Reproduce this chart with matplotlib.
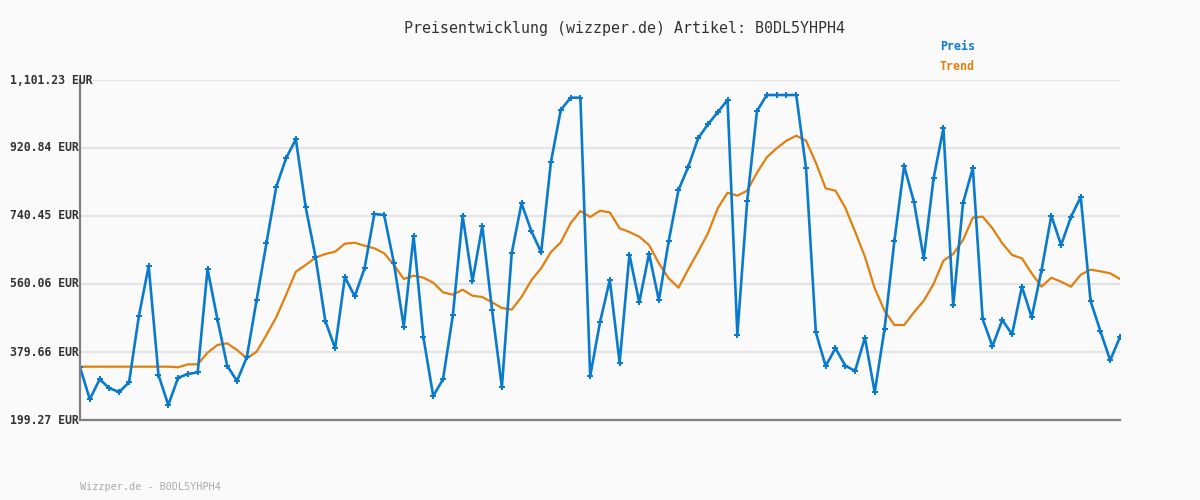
import matplotlib
matplotlib.use('Agg')
import matplotlib.pyplot as plt

# Preisverlauf (EUR)
preis = [339.1, 254.2, 307.2, 283.4, 273.6, 299.3, 475.2, 607.8, 318.7, 239.1,
         311.5, 321.3, 325.8, 599.9, 467.2, 343.3, 302.7, 365.6, 517.6, 668.0,
         817.4, 893.5, 943.9, 764.3, 632.5, 462.7, 389.5, 578.6, 527.4, 601.7,
         745.8, 743.1, 615.0, 446.8, 687.4, 418.7, 262.9, 307.2, 477.0, 740.4,
         567.2, 713.9, 491.1, 286.0, 641.5, 774.1, 700.7, 644.1, 883.7, 1021.6,
         1054.3, 1054.3, 315.2, 458.5, 570.7, 351.3, 637.8, 511.5, 640.5, 516.8,
         673.3, 809.4, 871.2, 946.6, 983.7, 1015.5, 1048.2, 425.6, 779.4, 1019.0,
         1061.4, 1061.4, 1061.4, 1061.4, 867.0, 431.9, 342.5, 389.5, 343.3, 329.3,
         417.6, 272.8, 440.7, 673.3, 873.1, 777.6, 628.2, 840.5, 973.1, 503.5,
         774.9, 867.8, 467.2, 394.8, 464.6, 426.6, 552.9, 471.7, 596.4, 741.2,
         663.5, 737.8, 790.9, 515.0, 435.4, 357.6, 419.5]

trend = [340.7, 340.7, 340.7, 340.7, 340.7, 340.7, 340.7, 340.7, 340.7, 340.7,
         339.1, 347.0, 347.0, 377.8, 398.2, 402.7, 385.0, 363.0, 380.5, 424.8,
         471.7, 530.9, 592.7, 610.5, 630.0, 639.6, 645.8, 667.0, 669.6, 661.7,
         654.8, 641.5, 610.5, 573.3, 582.1, 576.8, 563.5, 538.0, 531.7, 545.0,
         529.0, 525.6, 511.5, 496.4, 492.0, 525.6, 569.9, 601.7, 644.9, 670.6,
         721.1, 753.7, 737.8, 754.5, 750.0, 707.8, 698.0, 685.5, 663.5, 615.0,
         575.2, 550.2, 599.0, 645.8, 694.5, 760.9, 802.3, 794.3, 807.6, 855.3,
         896.2, 920.0, 940.2, 953.5, 940.2, 881.9, 813.9, 807.6, 762.5, 698.8,
         632.5, 548.6, 489.0, 451.3, 451.3, 485.0, 515.8, 560.1, 621.9, 639.6,
         676.7, 736.0, 738.6, 707.8, 668.0, 637.0, 628.2, 588.4, 552.9, 576.8,
         566.2, 552.9, 584.7, 598.0, 593.7, 588.4, 573.3]

y_min, y_max = 199.27, 1101.23
y_ticks = [199.27, 379.66, 560.06, 740.45, 920.84, 1101.23]
artikel = 'B0DL5YHPH4'

BLUE = '#0a7bcc'
ORANGE = '#e0800e'
MONO = 'DejaVu Sans Mono'

fig = plt.figure(figsize=(12, 5), dpi=100, facecolor='#fafafa')
ax = fig.add_axes([80 / 1200, 80 / 500, 1040 / 1200, 340 / 500])
ax.set_facecolor('#fafafa')

x = list(range(len(preis)))
ax.plot(x, trend, color=ORANGE, linewidth=1.6, zorder=3)
ax.plot(x, preis, color=BLUE, linewidth=1.9, marker='P', markersize=4,
        markeredgewidth=0, zorder=4)

ax.set_xlim(0, len(preis) - 1)
ax.set_ylim(y_min, y_max)
ax.set_yticks(y_ticks)
ax.set_yticklabels([])
ax.set_xticks([])
ax.tick_params(left=False)
ax.grid(axis='y', color='#e4e4e4', linewidth=1.6, zorder=0)

for s in ['top', 'right']:
    ax.spines[s].set_visible(False)
for s in ['left', 'bottom']:
    ax.spines[s].set_color('#808080')
    ax.spines[s].set_linewidth(1.6)
    ax.spines[s].set_zorder(5)

# Achsenbeschriftung links, linksbuendig bei x=10 px
for t in y_ticks:
    lab = f"{t:,.2f} EUR"
    fig.text(10 / 1200, (80 + (t - y_min) / (y_max - y_min) * 340) / 500, lab,
             ha='left', va='center', family=MONO, fontweight='bold',
             fontsize=8.3, color='#333333', zorder=6)

fig.text(624 / 1200, 1 - 28 / 500, f"Preisentwicklung (wizzper.de) Artikel: {artikel}",
         ha='center', va='center', family=MONO, fontsize=10.8, color='#333333')
fig.text(940 / 1200, 1 - 47 / 500, 'Preis', ha='left', va='center',
         family=MONO, fontweight='bold', fontsize=8.4, color=BLUE)
fig.text(940 / 1200, 1 - 67 / 500, 'Trend', ha='left', va='center',
         family=MONO, fontweight='bold', fontsize=8.4, color=ORANGE)
fig.text(80 / 1200, 1 - 487 / 500, f"Wizzper.de - {artikel}", ha='left', va='center',
         family=MONO, fontsize=7.3, color='#aaaaaa')

fig.savefig('out.png', dpi=100, facecolor='#fafafa')
